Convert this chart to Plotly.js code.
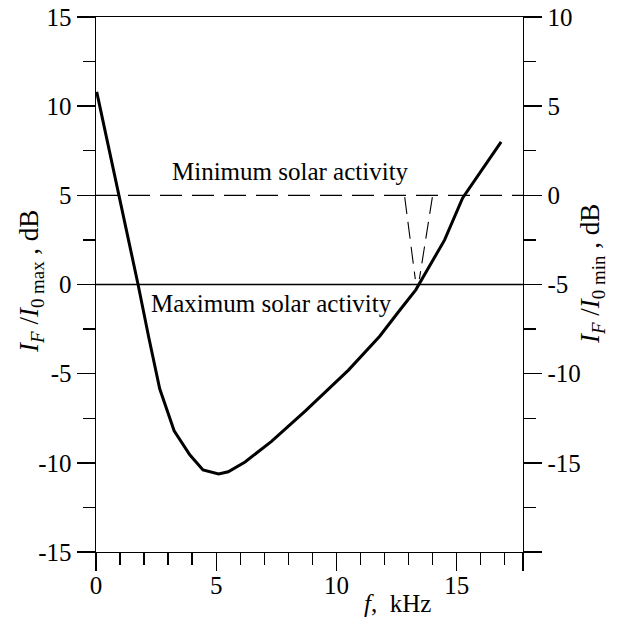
<!DOCTYPE html>
<html>
<head>
<meta charset="utf-8">
<script src="https://cdn.plot.ly/plotly-3.0.1.min.js"></script>
<style>
  html, body { margin: 0; padding: 0; background: #fff; }
  #chart { width: 622px; height: 617px; }
  #chart .xtick text, #chart .ytick text, #chart .y2tick text {
    font-family: 'Liberation Serif', serif !important;
  }
</style>
</head>
<body>
<div id="chart"></div>
<script>
// Frequency f, kHz
const freqKHz = [0.03, 0.95, 1.75, 2.2, 2.65, 3.25, 3.9, 4.45, 5.1, 5.5, 6.2, 7.3, 8.7, 10.5, 11.8, 12.6, 13.3, 14.5, 15.25, 16.85];
// I_F / I_0max, dB
const levelMaxDB = [10.8, 5.1, 0.0, -3.0, -5.85, -8.2, -9.55, -10.4, -10.62, -10.5, -9.95, -8.8, -7.1, -4.8, -2.9, -1.5, -0.3, 2.5, 4.85, 8.0];

// Converging dashed guide lines (between the two reference levels)
const guideLeftX = [12.84, 13.28];
const guideLeftY = [4.9, 0.3];
const guideRightX = [13.99, 13.45];
const guideRightY = [4.9, 0.3];

// Reference levels
const maxRefLevel = 0;   // left axis, dB
const minRefLevel = 0;   // right axis, dB

// Axis ranges and ticks
const xRange = [0, 17.76];
const xTickVals = [0, 5, 10, 15, 17.76];
const xTickText = ['0', '5', '10', '15', ''];
const yLeftRange = [-15, 15];
const yLeftTickVals = [-15, -10, -5, 0, 5, 10, 15];
const yLeftTickText = ['-15', '-10', '-5', '0', '5', '10', '15'];
const yRightRange = [-20, 10];
const yRightTickVals = [-20, -15, -10, -5, 0, 5, 10];
const yRightTickText = ['', '-15', '-10', '-5', '0', '5', '10'];

const labelMin = 'Minimum solar activity';
const labelMax = 'Maximum solar activity';

const FONT = 'Liberation Serif';

function mkFont(size) { return { family: FONT, size: size, color: '#000' }; }
function mkMinor(dtick) {
  return { tickmode: 'linear', tick0: 0, dtick: dtick, ticks: 'outside', ticklen: 12,
           tickwidth: 1.4, tickcolor: '#000', showgrid: false };
}
function mkAxis(extra) {
  const a = {
    showline: true, linecolor: '#000', linewidth: 1.4,
    ticks: 'outside', ticklen: 18, tickwidth: 1.4, tickcolor: '#000',
    showgrid: false, zeroline: false, fixedrange: true,
    tickfont: mkFont(25), tickmode: 'array'
  };
  return Object.assign(a, extra);
}

const traces = [
  { x: freqKHz, y: levelMaxDB, type: 'scatter', mode: 'lines',
    line: { color: '#000', width: 3 }, xaxis: 'x', yaxis: 'y', hoverinfo: 'skip' },
  { x: guideLeftX, y: guideLeftY, type: 'scatter', mode: 'lines',
    line: { color: '#000', width: 1.1, dash: '17px,8px' }, xaxis: 'x', yaxis: 'y', hoverinfo: 'skip' },
  { x: guideRightX, y: guideRightY, type: 'scatter', mode: 'lines',
    line: { color: '#000', width: 1.1, dash: '17px,8px' }, xaxis: 'x', yaxis: 'y', hoverinfo: 'skip' },
  { x: xRange, y: [minRefLevel, minRefLevel], type: 'scatter', mode: 'lines',
    line: { color: 'rgba(0,0,0,0)', width: 0 }, xaxis: 'x', yaxis: 'y2', hoverinfo: 'skip' }
];

const layout = {
  width: 622, height: 617,
  margin: { l: 96, r: 99, t: 17, b: 65, pad: 0 },
  paper_bgcolor: '#fff', plot_bgcolor: '#fff',
  showlegend: false,
  font: mkFont(25),
  xaxis: mkAxis({ range: xRange, tickvals: xTickVals, ticktext: xTickText, mirror: true,
                  ticklabelstandoff: -7, minor: mkMinor(1) }),
  yaxis: mkAxis({ range: yLeftRange, tickvals: yLeftTickVals, ticktext: yLeftTickText, minor: mkMinor(2.5) }),
  yaxis2: mkAxis({ range: yRightRange, tickvals: yRightTickVals, ticktext: yRightTickText,
                   overlaying: 'y', side: 'right', anchor: 'x', minor: mkMinor(2.5) }),
  shapes: [
    { type: 'line', xref: 'paper', x0: 0, x1: 1, yref: 'y', y0: maxRefLevel, y1: maxRefLevel,
      line: { color: '#000', width: 1.5 } },
    { type: 'line', xref: 'paper', x0: 0, x1: 1, yref: 'y2', y0: minRefLevel, y1: minRefLevel,
      line: { color: '#000', width: 1.4, dash: '22px,10px' } }
  ],
  annotations: [
    { text: labelMin, xref: 'x', yref: 'y', x: 8.07, y: 6.35, xanchor: 'center', yanchor: 'middle',
      showarrow: false, font: mkFont(25) },
    { text: labelMax, xref: 'x', yref: 'y', x: 7.28, y: -1.05, xanchor: 'center', yanchor: 'middle',
      showarrow: false, font: mkFont(25) },
    { text: '<i>I</i><sub><i>F</i></sub> /<i>I</i><sub>0 max</sub> , dB', xref: 'paper', yref: 'paper',
      x: -0.152, y: 0.505, xanchor: 'center', yanchor: 'middle', textangle: -90,
      showarrow: false, font: mkFont(27) },
    { text: '<i>I</i><sub><i>F</i></sub> /<i>I</i><sub>0 min</sub> , dB', xref: 'paper', yref: 'paper',
      x: 1.162, y: 0.52, xanchor: 'center', yanchor: 'middle', textangle: -90,
      showarrow: false, font: mkFont(27) },
    { text: '<i>f</i>,  kHz', xref: 'paper', yref: 'paper',
      x: 0.706, y: -0.097, xanchor: 'center', yanchor: 'middle',
      showarrow: false, font: mkFont(25) }
  ]
};

Plotly.newPlot('chart', traces, layout, { displayModeBar: false, staticPlot: true });
</script>
</body>
</html>
